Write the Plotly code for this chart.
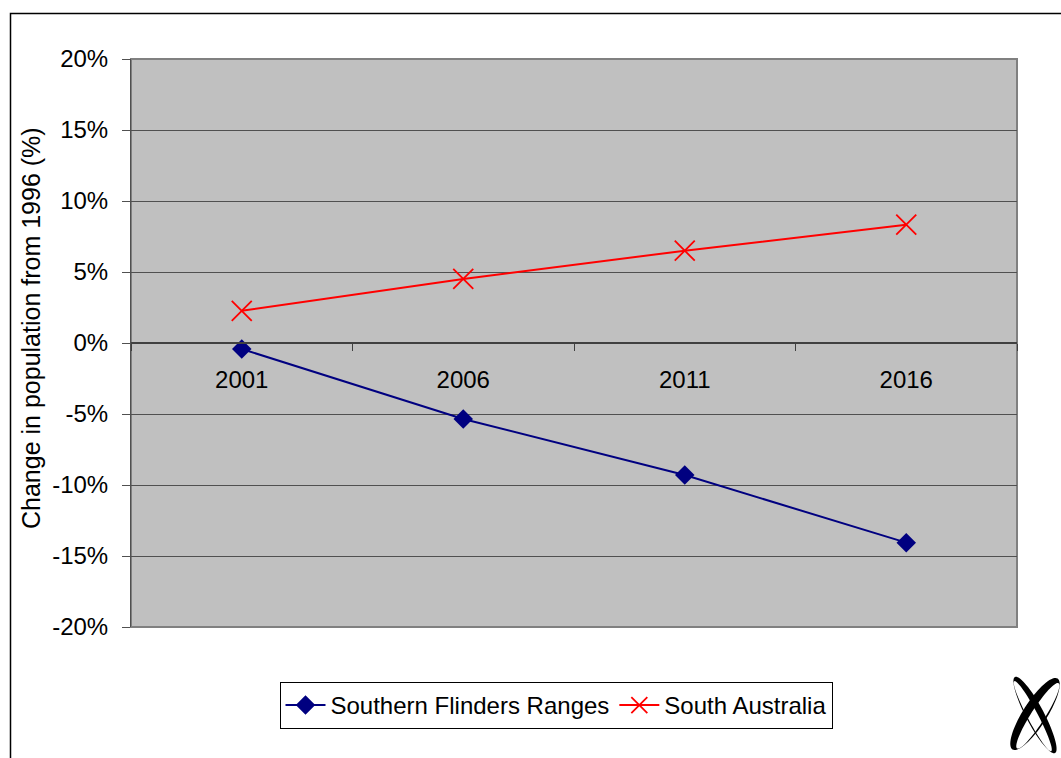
import numpy as np
import plotly.graph_objects as go

years = ["2001", "2006", "2011", "2016"]
southern_flinders = [-0.42, -5.35, -9.30, -14.06]
south_australia = [2.27, 4.51, 6.50, 8.33]
y_ticks = [-20, -15, -10, -5, 0, 5, 10, 15, 20]
y_tick_labels = [f"{v}%" for v in y_ticks]

W, H = 1061, 758
L, R, T, B = 131, 1017, 59, 627
FONT = "Liberation Sans, Arial, sans-serif"
FS = 24


def px(x):
    return (x - L) / (R - L)


def py(y):
    return (B - y) / (B - T)


fig = go.Figure()
fig.add_trace(go.Scatter(
    x=years, y=southern_flinders, name="Southern Flinders Ranges",
    mode="lines+markers",
    line=dict(color="#000080", width=2),
    marker=dict(symbol="diamond", size=15, color="#000080"),
))
fig.add_trace(go.Scatter(
    x=years, y=south_australia, name="South Australia",
    mode="lines+markers",
    line=dict(color="#FF0000", width=2),
    marker=dict(symbol="x-thin-open", size=20, color="#FF0000",
                line=dict(color="#FF0000", width=1.8)),
))

shapes = []
# plot border
shapes.append(dict(type="rect", xref="paper", yref="paper", x0=0, x1=1, y0=0, y1=1,
                   line=dict(color="#808080", width=2), layer="below"))
# outer chart frame
shapes.append(dict(type="rect", xref="paper", yref="paper",
                   x0=px(10.5), x1=px(1075), y0=py(13.5), y1=py(775),
                   line=dict(color="#000000", width=1.5), layer="below"))


# decorative logo: two crossing crescent loops
def ellipse_pts(cx, cy, a, b, ang_deg, reverse=False, n=72):
    t = np.linspace(0, 2 * np.pi, n, endpoint=False)
    if reverse:
        t = t[::-1]
    ang = np.radians(ang_deg)
    xs = cx + a * np.cos(t) * np.cos(ang) - b * np.sin(t) * np.sin(ang)
    ys = cy + a * np.cos(t) * np.sin(ang) + b * np.sin(t) * np.cos(ang)
    return "M " + " L ".join(f"{px(x):.5f},{py(y):.5f}" for x, y in zip(xs, ys)) + " Z"


def crescent(cx, cy, a, b, ang_deg, thin_sign):
    ang = np.radians(ang_deg)
    mx, my = -np.sin(ang), np.cos(ang)
    s = thin_sign * b * 0.28
    outer = ellipse_pts(cx, cy, a, b, ang_deg)
    inner = ellipse_pts(cx + s * mx, cy + s * my, a * 0.92, b * 0.58, ang_deg, reverse=True)
    return outer + " " + inner


shapes.append(dict(type="path", xref="paper", yref="paper",
                   path=crescent(1035, 714, 42, 12, -57.5, +1),
                   fillcolor="black", line=dict(width=0)))
shapes.append(dict(type="path", xref="paper", yref="paper",
                   path=crescent(1035, 715, 43, 9, 62.2, +1),
                   fillcolor="black", line=dict(width=0)))

fig.update_layout(
    width=W, height=H,
    margin=dict(l=L, r=W - R, t=T, b=H - B, pad=0),
    paper_bgcolor="white",
    plot_bgcolor="#C0C0C0",
    font=dict(family=FONT, size=FS, color="black"),
    showlegend=True,
    legend=dict(
        orientation="h", x=px(556), xanchor="center", y=py(682), yanchor="top",
        bordercolor="black", borderwidth=1, bgcolor="white",
        font=dict(family=FONT, size=FS, color="black"),
        itemwidth=40,
    ),
    xaxis=dict(
        type="category", range=[-0.5, 3.5], tickson="boundaries",
        anchor="free", position=0.5,
        showline=True, linecolor="#404040", linewidth=2,
        ticks="outside", ticklen=7, tickcolor="#404040", tickwidth=1,
        showgrid=False, ticklabelstandoff=15,
        tickfont=dict(family=FONT, size=FS, color="black"),
    ),
    yaxis=dict(
        range=[-20, 20], tickvals=y_ticks, ticktext=y_tick_labels,
        showgrid=True, gridcolor="#505050", gridwidth=1,
        zeroline=False,
        showline=True, linecolor="#505050", linewidth=1,
        ticks="outside", ticklen=8, tickcolor="#505050",
        ticklabelstandoff=9,
        tickfont=dict(family=FONT, size=FS, color="black"),
    ),
    shapes=shapes,
    annotations=[dict(
        text="Change in population from 1996 (%)", textangle=-90,
        xref="paper", yref="paper", x=px(31), y=py(328),
        xanchor="center", yanchor="middle", showarrow=False,
        font=dict(family=FONT, size=25, color="black"),
    )],
)

fig.write_html("out.html", config={"displayModeBar": False},
               post_script="document.body.style.margin='0';")
